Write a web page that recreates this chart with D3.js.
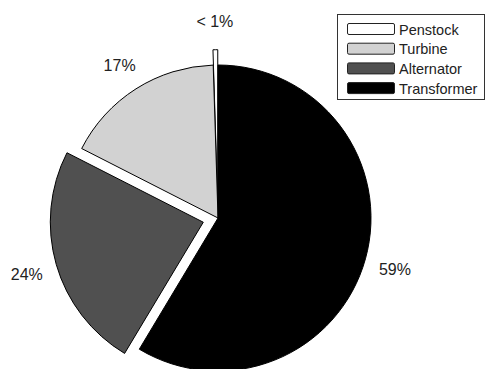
<!DOCTYPE html>
<html>
<head>
<meta charset="utf-8">
<script src="https://cdn.jsdelivr.net/npm/d3@7"></script>
<style>
  html, body { margin: 0; padding: 0; background: #fff; }
  svg { display: block; }
  text { font-family: "Liberation Sans", Arial, sans-serif; fill: #222; }
</style>
</head>
<body>
<svg id="chart" width="487" height="369"></svg>
<script>
// ---- data ----
const categories = ["Penstock", "Turbine", "Alternator", "Transformer"];
const values = [0.5, 17.0, 23.9, 58.6];
const labels = ["< 1%", "17%", "24%", "59%"];
const exploded = [true, false, true, false];
const colors = ["#ffffff", "#d2d2d2", "#505050", "#000000"];

// ---- layout ----
const W = 487, H = 369;
const cx = 218, cy = 218, R = 153;
const svg = d3.select("#chart");

const pie = d3.pie().sort(null).value(d => d.v).startAngle(0).endAngle(-2 * Math.PI);
const data = pie(categories.map((c, i) => ({ c, v: values[i], lab: labels[i], ex: exploded[i], col: colors[i] })));
const arc = d3.arc().innerRadius(0).outerRadius(R);

const g = svg.append("g").attr("transform", `translate(${cx},${cy})`);

function offset(d, k) {
  const a = (d.startAngle + d.endAngle) / 2;
  return [Math.sin(a) * k, -Math.cos(a) * k];
}

g.selectAll("path.slice").data(data).join("path")
  .attr("class", "slice")
  .attr("d", arc)
  .attr("transform", d => {
    const [ox, oy] = d.data.ex ? offset(d, 0.1 * R) : [0, 0];
    return `translate(${ox},${oy})`;
  })
  .attr("fill", d => d.data.col)
  .attr("stroke", "#000")
  .attr("stroke-width", 1)
  .attr("stroke-linejoin", "miter");

g.selectAll("text.lab").data(data).join("text")
  .attr("class", "lab")
  .attr("x", d => offset(d, 1.2 * R + (d.data.ex ? 0.1 * R : 0))[0])
  .attr("y", d => offset(d, 1.2 * R + (d.data.ex ? 0.1 * R : 0))[1])
  .attr("dy", "0.47em")
  .attr("text-anchor", "middle")
  .style("font-size", "16px")
  .text(d => d.data.lab);

// ---- legend ----
const lx = 337, ly = 14, lw = 147, lh = 85;
const leg = svg.append("g");
leg.append("rect").attr("x", lx + 0.5).attr("y", ly + 0.5).attr("width", lw).attr("height", lh)
  .attr("fill", "#fff").attr("stroke", "#333").attr("stroke-width", 1);
const rowY = d3.scaleBand().domain(categories).range([ly + 9, ly + 9 + 4 * 19.7]).paddingInner(0);
categories.forEach((c, i) => {
  const y = rowY(c);
  leg.append("rect").attr("x", 347.5).attr("y", y + 0.5).attr("width", 47).attr("height", 11)
    .attr("rx", 1.5).attr("fill", colors[i]).attr("stroke", "#222").attr("stroke-width", 1);
  leg.append("text").attr("x", 399).attr("y", y + 6).attr("dy", "0.38em")
    .style("font-size", "14.5px").text(c);
});
</script>
</body>
</html>
